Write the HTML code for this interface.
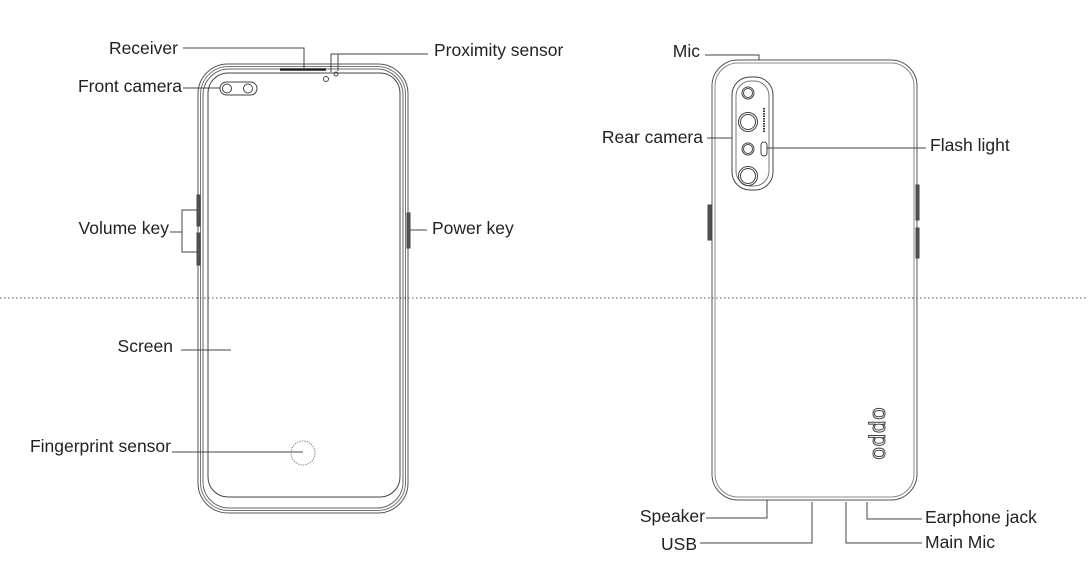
<!DOCTYPE html>
<html><head><meta charset="utf-8"><style>
html,body{margin:0;padding:0;background:#fff;}
svg{display:block}
text{font-family:"Liberation Sans",sans-serif;font-size:17.5px;fill:#222;}
</style></head><body>
<svg width="1088" height="579" viewBox="0 0 1088 579" xmlns="http://www.w3.org/2000/svg">
<g fill="none" stroke="#444" stroke-width="1">
<line x1="0" y1="298" x2="1088" y2="298" stroke-dasharray="1.5,2.5" stroke="#555"/>
<rect x="198" y="64" width="210" height="449" rx="30" stroke="#555"/>
<rect x="200.5" y="66.5" width="205" height="444" rx="28" stroke="#777"/>
<rect x="203" y="69" width="200" height="439" rx="26" stroke="#666"/>
<rect x="208" y="73" width="192" height="424" rx="20" stroke="#444"/>
<rect x="197" y="195" width="3" height="31" fill="#555" stroke="#444"/>
<rect x="197" y="233" width="3" height="32" fill="#555" stroke="#444"/>
<rect x="407" y="213" width="3" height="35" fill="#555" stroke="#444"/>
<line x1="280" y1="69.5" x2="326" y2="69.5" stroke="#222" stroke-width="2.5"/>
<circle cx="326" cy="79" r="2.5"/>
<circle cx="336" cy="74" r="2"/>
<rect x="220" y="82" width="37" height="13" rx="6.5"/>
<circle cx="227" cy="88.5" r="4.5"/>
<circle cx="248" cy="88.5" r="4.5"/>
<circle cx="303" cy="453" r="12" stroke="#888" stroke-dasharray="1.5,1"/>
<polyline points="183,48 304,48 304,69"/>
<polyline points="331,72 331,54 338,54 338,71"/>
<line x1="338" y1="54" x2="428" y2="54"/>
<line x1="183" y1="88" x2="220" y2="88"/>
<polyline points="197,210 182,210 182,252 197,252"/>
<line x1="170" y1="232" x2="182" y2="232"/>
<line x1="410" y1="230" x2="427" y2="230"/>
<line x1="181" y1="350" x2="231" y2="350"/>
<line x1="172" y1="452" x2="303" y2="452"/>
<rect x="712" y="60" width="205" height="440" rx="26" stroke="#555"/>
<rect x="715" y="63" width="199" height="434" rx="23" stroke="#888"/>
<rect x="708" y="205" width="3" height="35" fill="#555"/>
<rect x="916" y="185" width="3" height="35" fill="#555"/>
<rect x="916" y="228" width="3" height="30" fill="#555"/>
<rect x="732" y="77" width="41" height="113" rx="18"/>
<rect x="736" y="81" width="33" height="105" rx="15" stroke="#777"/>
<circle cx="748" cy="93" r="6"/><circle cx="748" cy="93" r="4.5"/>
<circle cx="748" cy="122" r="9.5"/><circle cx="748" cy="122" r="7.5"/>
<circle cx="748" cy="149" r="6"/><circle cx="748" cy="149" r="4.5"/>
<circle cx="748" cy="176" r="9.5"/><circle cx="748" cy="176" r="7.5"/>
<rect x="761" y="142" width="6" height="14" rx="3"/>
<line x1="764" y1="108" x2="764" y2="132" stroke="#333" stroke-width="2" stroke-dasharray="1.5,1"/>
<polyline points="705,55 759,55 759,60"/>
<line x1="707" y1="138" x2="732" y2="138"/>
<line x1="767" y1="148" x2="926" y2="148"/>
<polyline points="767,500 767,518 706,518"/>
<polyline points="812,502 812,543 700,543"/>
<polyline points="846,502 846,543 922,543"/>
<polyline points="867,502 867,519 922,519"/>
</g>
<text x="873" y="434" transform="rotate(90 873 434)" text-anchor="middle" style="font-size:22px;fill:#fff;stroke:#444;stroke-width:1;letter-spacing:1px">oppo</text>
<text x="178" y="54" text-anchor="end">Receiver</text>
<text x="434" y="56">Proximity sensor</text>
<text x="182" y="92" text-anchor="end">Front camera</text>
<text x="169" y="234" text-anchor="end">Volume key</text>
<text x="432" y="234">Power key</text>
<text x="173" y="352" text-anchor="end">Screen</text>
<text x="171" y="452" text-anchor="end">Fingerprint sensor</text>
<text x="700" y="57" text-anchor="end">Mic</text>
<text x="703" y="143" text-anchor="end">Rear camera</text>
<text x="930" y="151">Flash light</text>
<text x="705" y="522" text-anchor="end">Speaker</text>
<text x="697" y="550" text-anchor="end">USB</text>
<text x="925" y="523">Earphone jack</text>
<text x="925" y="548">Main Mic</text>
</svg>
</body></html>
